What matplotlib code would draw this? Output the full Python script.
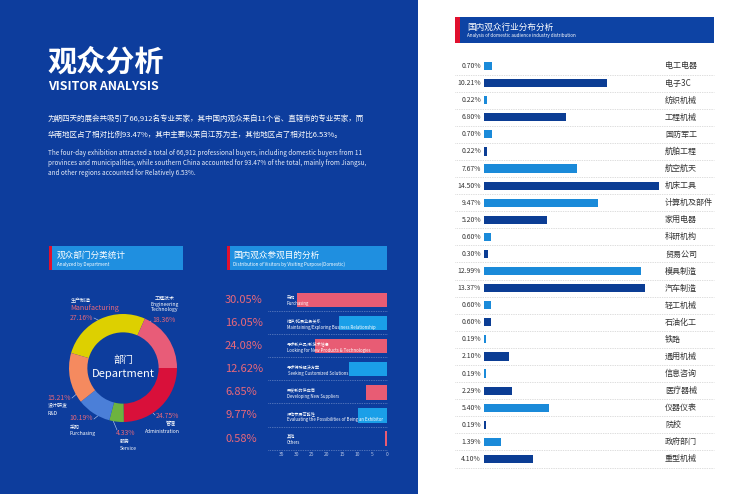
import matplotlib
matplotlib.use('Agg')
import matplotlib.pyplot as plt
from matplotlib.patches import Rectangle

plt.rcParams['font.family'] = ['Noto Sans CJK SC', 'DejaVu Sans']

# ---------------- data ----------------
dept_cn = ['生产制造', '工程技术', '管理', '服务', '采购', '设计研发']
dept_en = ['Manufacturing', 'Engineering\nTechnology', 'Administration', 'Service', 'Purchasing', 'R&D']
dept_vals = [27.16, 18.36, 24.75, 4.33, 10.19, 15.21]

purpose_cn = ['采购', '维护/拓展业务关系', '寻求新产品/新技术信息', '寻求特殊解决方案',
              '开发新的供应商', '评估参展可能性', '其他']
purpose_en = ['Purchasing', 'Maintaining/Exploring Business Relationship',
              'Looking for New Products & Technologies', ' Seeking Customized Solutions',
              'Developing New Suppliers', 'Evaluating the Possibilities of Being an Exhibitor', 'Others']
purpose_vals = [30.05, 16.05, 24.08, 12.62, 6.85, 9.77, 0.58]
purpose_ticks = [35, 30, 25, 20, 15, 10, 5, 0]

industry = ['电工电器', '电子3C', '纺织机械', '工程机械', '国防军工', '航舶工程', '航空航天',
            '机床工具', '计算机及部件', '家用电器', '科研机构', '贸易公司', '模具制造', '汽车制造',
            '轻工机械', '石油化工', '铁路', '通用机械', '信息咨询', '医疗器械', '仪器仪表',
            '院校', '政府部门', '重型机械']
industry_vals = [0.70, 10.21, 0.22, 6.80, 0.70, 0.22, 7.67, 14.50, 9.47, 5.20, 0.60, 0.30,
                 12.99, 13.37, 0.60, 0.60, 0.19, 2.10, 0.19, 2.29, 5.40, 0.19, 1.39, 4.10]

# ---------------- styles ----------------
BLUE_BG = '#0d3d9d'
HEAD_LB = '#1f8fe0'
RED = '#e0102e'
PCT = '#e8687a'
W, H = 740, 494

fig = plt.figure(figsize=(7.4, 4.94), dpi=100)
bg = fig.add_axes([0, 0, 1, 1])
bg.set_xlim(0, W); bg.set_ylim(H, 0); bg.axis('off')
bg.add_patch(Rectangle((0, 0), 418, H, color=BLUE_BG, lw=0))
bg.add_patch(Rectangle((418, 0), W - 418, H, color='white', lw=0))


def pax(x0, y0, x1, y1):
    return fig.add_axes([x0 / W, 1 - y1 / H, (x1 - x0) / W, (y1 - y0) / H])


# ---------------- title block ----------------
bg.text(47, 62, '观众分析', color='white', fontsize=21, fontweight='bold', va='center', ha='left')
bg.text(48, 86, 'VISITOR ANALYSIS', color='white', fontsize=8.9, fontweight='bold', va='center', ha='left')
bg.text(48, 120, '为期四天的展会共吸引了66,912名专业买家，其中国内观众来自11个省、直辖市的专业买家，而',
        color='white', fontsize=5.45, va='center', ha='left')
bg.text(48, 135, '华南地区占了相对比例93.47%，其中主要以来自江苏为主，其他地区占了相对比6.53%。',
        color='white', fontsize=5.45, va='center', ha='left')
eng = ['The four-day exhibition attracted a total of 66,912 professional buyers, including domestic buyers from 11',
       'provinces and municipalities, while southern China accounted for 93.47% of the total, mainly from Jiangsu,',
       'and other regions accounted for Relatively 6.53%.']
for i, line in enumerate(eng):
    bg.text(48, 153 + 10 * i, line, color='#e6ecf8', fontsize=4.6, va='center', ha='left')

# ---------------- section headers ----------------
bg.add_patch(Rectangle((49, 246), 134, 24, color=HEAD_LB, lw=0))
bg.add_patch(Rectangle((49, 246), 3, 24, color=RED, lw=0))
bg.text(57, 255, '观众部门分类统计', color='white', fontsize=6.2, va='center')
bg.text(57, 264, 'Analyzed by Department', color='white', fontsize=3.3, va='center')

bg.add_patch(Rectangle((228, 246), 159, 24, color=HEAD_LB, lw=0))
bg.add_patch(Rectangle((227, 246), 3, 24, color=RED, lw=0))
bg.text(233, 255, '国内观众参观目的分析', color='white', fontsize=6.2, va='center')
bg.text(233, 264, 'Distribution of Visitors by Visiting Purpose(Domestic)', color='white', fontsize=3.3, va='center')

bg.add_patch(Rectangle((455, 17), 259, 26, color='#0d43a4', lw=0))
bg.add_patch(Rectangle((455, 17), 5, 26, color=RED, lw=0))
bg.text(467, 27, '国内观众行业分布分析', color='white', fontsize=6.2, va='center')
bg.text(467, 36, 'Analysis of domestic audience industry distribution', color='white', fontsize=3.3, va='center')

# ---------------- donut ----------------
dcolors = ['#ddd000', '#e85c78', '#d9103a', '#6db33f', '#4b7fd8', '#f58a5f']
dax = pax(69, 314, 177, 422)
start = 3.6 * (dept_vals[0] + dept_vals[1])
dax.pie(dept_vals, colors=dcolors, startangle=start, counterclock=False, radius=1,
        wedgeprops=dict(width=0.34, edgecolor='none'))
dax.set_xlim(-1, 1); dax.set_ylim(-1, 1)
dax.axis('off')
bg.text(123, 360, '部门', color='white', fontsize=7.2, ha='center', va='center')
bg.text(123, 374, 'Department', color='white', fontsize=8, ha='center', va='center')

LC = '#c8d4f0'
PF = 4.9
# manufacturing (top-left)
bg.text(71, 301, dept_cn[0], color='white', fontsize=3.6, va='center')
bg.text(70, 308, dept_en[0], color=PCT, fontsize=5.2, va='center')
bg.text(70, 318, f'{dept_vals[0]:.2f}%', color=PCT, fontsize=PF, va='center')
bg.plot([94, 104], [318, 323], color=LC, lw=0.4)
# engineering technology (top-right)
bg.text(165, 298, dept_cn[1], color='white', fontsize=3.6, ha='center', va='center')
bg.text(165, 307, dept_en[1], color='white', fontsize=3.6, ha='center', va='center', linespacing=1.2)
bg.text(164, 320, f'{dept_vals[1]:.2f}%', color=PCT, fontsize=PF, ha='center', va='center')
bg.plot([151, 143], [321, 327], color=LC, lw=0.4)
# R&D
bg.text(47, 398, f'{dept_vals[5]:.2f}%', color=PCT, fontsize=PF, va='center')
bg.text(48, 406, dept_cn[5], color='white', fontsize=3.6, va='center')
bg.text(48, 413, dept_en[5], color='white', fontsize=3.6, va='center')
bg.plot([72, 80], [398, 391], color=LC, lw=0.4)
# purchasing
bg.text(69, 418, f'{dept_vals[4]:.2f}%', color=PCT, fontsize=PF, va='center')
bg.text(70, 427, dept_cn[4], color='white', fontsize=3.6, va='center')
bg.text(70, 433, dept_en[4], color='white', fontsize=3.6, va='center')
bg.plot([94, 105], [419, 410], color=LC, lw=0.4)
# service
bg.text(116, 433, f'{dept_vals[3]:.2f}%', color=PCT, fontsize=PF, va='center')
bg.text(120, 441, dept_cn[3], color='white', fontsize=3.6, va='center')
bg.text(120, 448, dept_en[3], color='white', fontsize=3.6, va='center')
bg.plot([117, 112], [430, 418], color=LC, lw=0.4)
# administration
bg.text(179, 416, f'{dept_vals[2]:.2f}%', color=PCT, fontsize=PF, ha='right', va='center')
bg.text(176, 424, dept_cn[2], color='white', fontsize=3.6, ha='right', va='center')
bg.text(180, 431, dept_en[2], color='white', fontsize=3.6, ha='right', va='center')
bg.plot([155, 147], [415, 407], color=LC, lw=0.4)

# ---------------- purpose bars ----------------
n = len(purpose_vals)
sp = 23.1
pax_ = pax(282, 300 - sp / 2, 387, 300 + sp * (n - 0.5))
pax_.set_facecolor('none')
pcols = ['#e85c74' if i % 2 == 0 else '#1a9fe8' for i in range(n)]
ys = list(range(n))
pax_.barh(ys, purpose_vals, height=0.62, color=pcols)
pax_.set_xlim(35, 0)
pax_.set_ylim(n - 0.5, -0.5)
for s in pax_.spines.values():
    s.set_visible(False)
pax_.set_yticks([])
pax_.set_xticks(purpose_ticks)
pax_.tick_params(axis='x', length=0, pad=1.5, labelsize=3.6, labelcolor='#b8c6e6')
for i in range(n):
    pax_.text(54, i, f'{purpose_vals[i]:.2f}%', color=PCT, fontsize=8, ha='left', va='center')
    pax_.text(35 - (287 - 282) / 3, i - 0.09, purpose_cn[i], color='white', fontsize=3.0,
              ha='left', va='center')
    pax_.text(35 - (287 - 282) / 3, i + 0.17, purpose_en[i], color='white', fontsize=3.1,
              ha='left', va='center')
    pax_.plot([39.7, 0], [i + 0.48, i + 0.48], color='#8fa6d6', lw=0.5, ls=(0, (1, 1.5)),
              clip_on=False)

# ---------------- industry bars ----------------
m = len(industry_vals)
sp2 = (459 - 66) / (m - 1)
iax = pax(484, 66 - sp2 / 2, 714, 459 + sp2 / 2)
iax.set_facecolor('none')
scale = 12.07
iax.set_xlim(0, 230 / scale)
iax.set_ylim(m - 0.5, -0.5)
icols = ['#1a8ad9' if i % 2 == 0 else '#0b3d94' for i in range(m)]
iax.barh(range(m), industry_vals, height=0.48, color=icols)
iax.axis('off')
for i in range(m):
    iax.text(-3 / scale, i, f'{industry_vals[i]:.2f}%', color='#333333', fontsize=4.9,
             ha='right', va='center', fontweight='medium')
    iax.text((665 - 484) / scale, i, industry[i], color='#333333', fontsize=5.8,
             ha='left', va='center')
    iax.plot([-29 / scale, 230 / scale], [i + 0.5, i + 0.5], color='#bdbdbd', lw=0.5,
             ls=(0, (1, 1.5)), clip_on=False)

fig.savefig('out.png', dpi=100)
